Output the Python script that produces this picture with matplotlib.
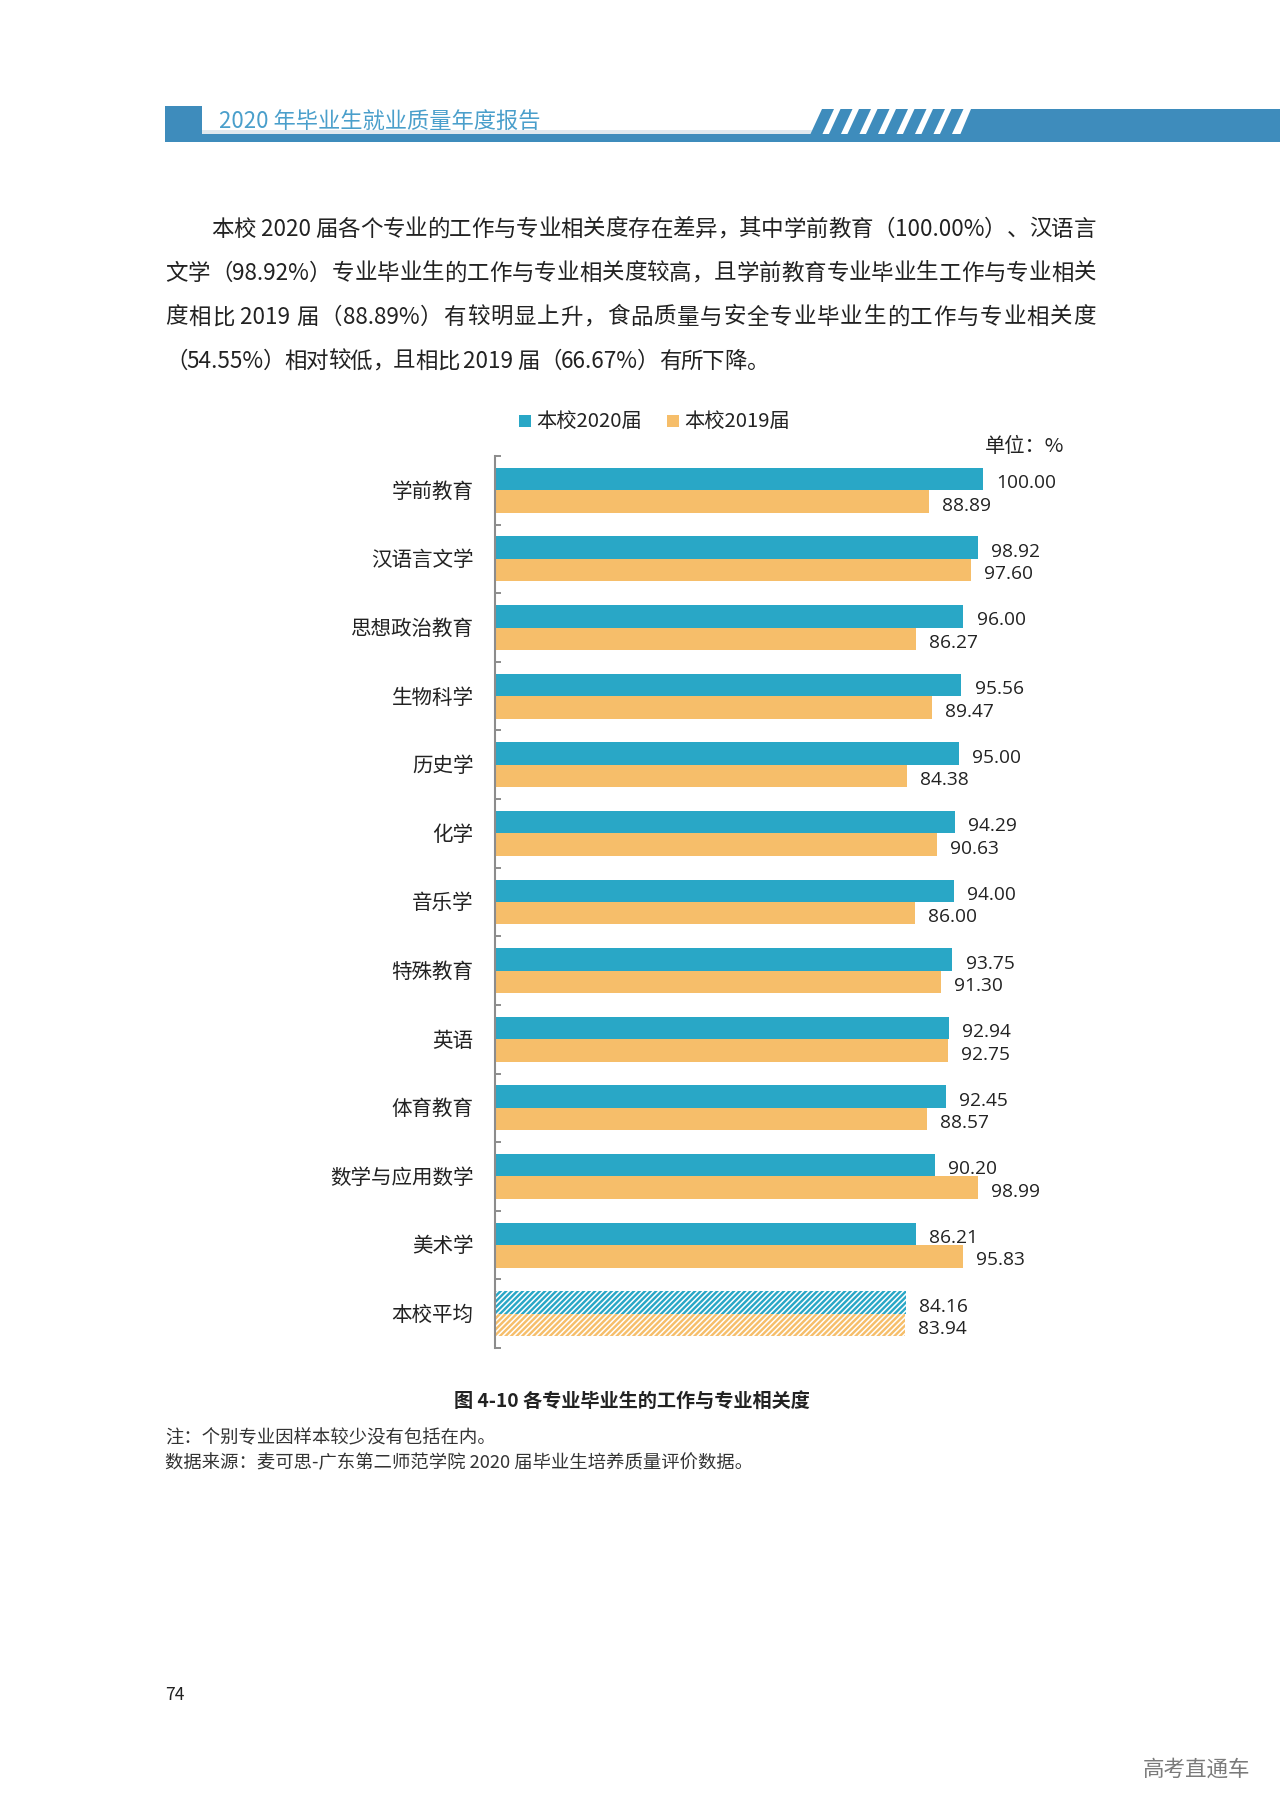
import matplotlib
matplotlib.use('Agg')
import matplotlib.pyplot as plt
from matplotlib.patches import Rectangle, Polygon
from matplotlib.font_manager import FontProperties
import numpy as np

plt.rcParams['font.family'] = ['Noto Sans CJK SC', 'DejaVu Sans']
plt.rcParams['hatch.linewidth'] = 1.1

# ---------------- data ----------------
categories = ['学前教育', '汉语言文学', '思想政治教育', '生物科学', '历史学', '化学',
              '音乐学', '特殊教育', '英语', '体育教育', '数学与应用数学', '美术学', '本校平均']
v2020 = [100.00, 98.92, 96.00, 95.56, 95.00, 94.29, 94.00, 93.75, 92.94, 92.45, 90.20, 86.21, 84.16]
v2019 = [88.89, 97.60, 86.27, 89.47, 84.38, 90.63, 86.00, 91.30, 92.75, 88.57, 98.99, 95.83, 83.94]
series_names = ['本校2020届', '本校2019届']
average_name = '本校平均'
unit_label = '单位：%'
caption = '图 4-10 各专业毕业生的工作与专业相关度'
header_text = '2020 年毕业生就业质量年度报告'
para_lines = [
    '本校 2020 届各个专业的工作与专业相关度存在差异，其中学前教育（100.00%）、汉语言',
    '文学（98.92%）专业毕业生的工作与专业相关度较高，且学前教育专业毕业生工作与专业相关',
    '度相比 2019 届（88.89%）有较明显上升，食品质量与安全专业毕业生的工作与专业相关度',
    '（54.55%）相对较低，且相比 2019 届（66.67%）有所下降。',
]
notes = ['注：个别专业因样本较少没有包括在内。',
         '数据来源：麦可思-广东第二师范学院 2020 届毕业生培养质量评价数据。']
page_no = '74'
watermark = '高考直通车'

BLUE = '#29A7C6'
ORANGE = '#F6BE6A'
HDR = '#3E8CBC'
TXT = '#222222'

W, H = 1280, 1810
fig = plt.figure(figsize=(12.8, 18.1), dpi=100)
fig.patch.set_facecolor('white')
bg = fig.add_axes([0, 0, 1, 1])
bg.set_xlim(0, W)
bg.set_ylim(H, 0)
bg.axis('off')

# ---------------- header ----------------
bg.add_patch(Rectangle((165, 106), 37, 36, color=HDR, lw=0))
bg.add_patch(Rectangle((202, 130), 610, 4, color='#dfe8ee', lw=0))
bg.add_patch(Rectangle((202, 134), W - 202, 8, color=HDR, lw=0))
for k in range(8):
    x0 = 810 + k * 18.5
    bg.add_patch(Polygon([(x0, 135), (x0 + 12, 135), (x0 + 24, 109), (x0 + 12, 109)],
                         closed=True, color=HDR, lw=0))
bg.add_patch(Polygon([(960, 135), (W, 135), (W, 109), (971, 109)], closed=True, color=HDR, lw=0))
bg.text(219, 122, header_text, fontsize=16, color='#4A9FCB', va='center', ha='left', weight='light')

# ---------------- paragraph (justified) ----------------
renderer = fig.canvas.get_renderer()
pfs = 16.2
fp = FontProperties(family=['Noto Sans CJK SC', 'DejaVu Sans'], size=pfs, weight='light')


def tw(s):
    w1, _, _ = renderer.get_text_width_height_descent('x' + s + 'x', fp, ismath=False)
    w0, _, _ = renderer.get_text_width_height_descent('xx', fp, ismath=False)
    return w1 - w0


def tokenize(s):
    out, buf = [], ''
    for ch in s:
        if ord(ch) < 128:
            buf += ch
        else:
            if buf:
                out.append(buf)
                buf = ''
            out.append(ch)
    if buf:
        out.append(buf)
    return out


line_y = [229, 273, 317, 361]
line_x0 = [211, 165, 165, 165]
x_right = 1096
for i, (ln, yv, x0) in enumerate(zip(para_lines, line_y, line_x0)):
    toks = tokenize(ln)
    widths = [tw(t) for t in toks]
    if i < len(para_lines) - 1:
        extra = (x_right - x0 - sum(widths)) / (len(toks) - 1)
    else:
        extra = -0.8
    x = x0
    for t, w in zip(toks, widths):
        bg.text(x, yv, t, fontproperties=fp, color=TXT, va='center', ha='left')
        x += w + extra

# ---------------- legend ----------------
leg_y = 421
bg.add_patch(Rectangle((519, leg_y - 6), 12, 12, color=BLUE, lw=0))
bg.text(536, leg_y, series_names[0], fontsize=14.6, color=TXT, va='center', ha='left')
bg.add_patch(Rectangle((667, leg_y - 6), 12, 12, color=ORANGE, lw=0))
bg.text(684, leg_y, series_names[1], fontsize=14.6, color=TXT, va='center', ha='left')
bg.text(985, 446, unit_label, fontsize=14.6, color=TXT, va='center', ha='left')

# ---------------- chart ----------------
ax_left, ax_right_px = 495, 495 + 4.88 * 120
top_px, bot_px = 456, 1348
ax = fig.add_axes([ax_left / W, 1 - bot_px / H, (ax_right_px - ax_left) / W, (bot_px - top_px) / H])
ax.set_facecolor('none')
n = len(categories)
y = np.arange(n)
h = 0.327
b1 = ax.barh(y - h / 2, v2020, height=h, color=BLUE, lw=0)
b2 = ax.barh(y + h / 2, v2019, height=h, color=ORANGE, lw=0)
for i, c in enumerate(categories):
    if c == average_name:
        for b in (b1[i], b2[i]):
            b.set_hatch('//////')
            b.set_edgecolor('white')
            b.set_linewidth(0)
ax.set_xlim(0, 120)
ax.set_ylim(n - 0.5, -0.5)
for s in ['top', 'right', 'bottom']:
    ax.spines[s].set_visible(False)
ax.spines['left'].set_color('#8c8c8c')
ax.spines['left'].set_linewidth(1.5)
ax.set_xticks([])
ax.set_yticks(np.arange(-0.5, n, 1.0))
ax.set_yticklabels([])
ax.tick_params(axis='y', which='major', direction='in', length=4.5, width=1.4, color='#8c8c8c')

for yy, c in zip(y, categories):
    ax.annotate(c, xy=(0, yy), xycoords=('axes fraction', 'data'), xytext=(-15.5, -1.0),
                textcoords='offset points', va='center', ha='right', fontsize=14.8, color=TXT)

for yy, v in zip(y, v2020):
    ax.annotate(f'{v:.2f}', xy=(v, yy - h / 2), xytext=(9.5, -3), textcoords='offset points',
                va='center', ha='left', fontsize=13.8, color=TXT, family=['Open Sans', 'DejaVu Sans'])
for yy, v in zip(y, v2019):
    ax.annotate(f'{v:.2f}', xy=(v, yy + h / 2), xytext=(9.5, -3), textcoords='offset points',
                va='center', ha='left', fontsize=13.8, color=TXT, family=['Open Sans', 'DejaVu Sans'])

# ---------------- caption & notes ----------------
bg.text(632, 1401, caption, fontsize=13.8, weight='bold', color=TXT, va='center', ha='center')
bg.text(165, 1438, notes[0], fontsize=13.2, color='#333333', va='center', ha='left')
bg.text(165, 1463, notes[1], fontsize=13.2, color='#333333', va='center', ha='left')
bg.text(165, 1695, page_no, fontsize=12.5, color=TXT, va='center', ha='left')
bg.text(1143, 1770, watermark, fontsize=15.5, color='#7a7a7a', va='center', ha='left')

fig.savefig('out.png', dpi=100, facecolor='white')
